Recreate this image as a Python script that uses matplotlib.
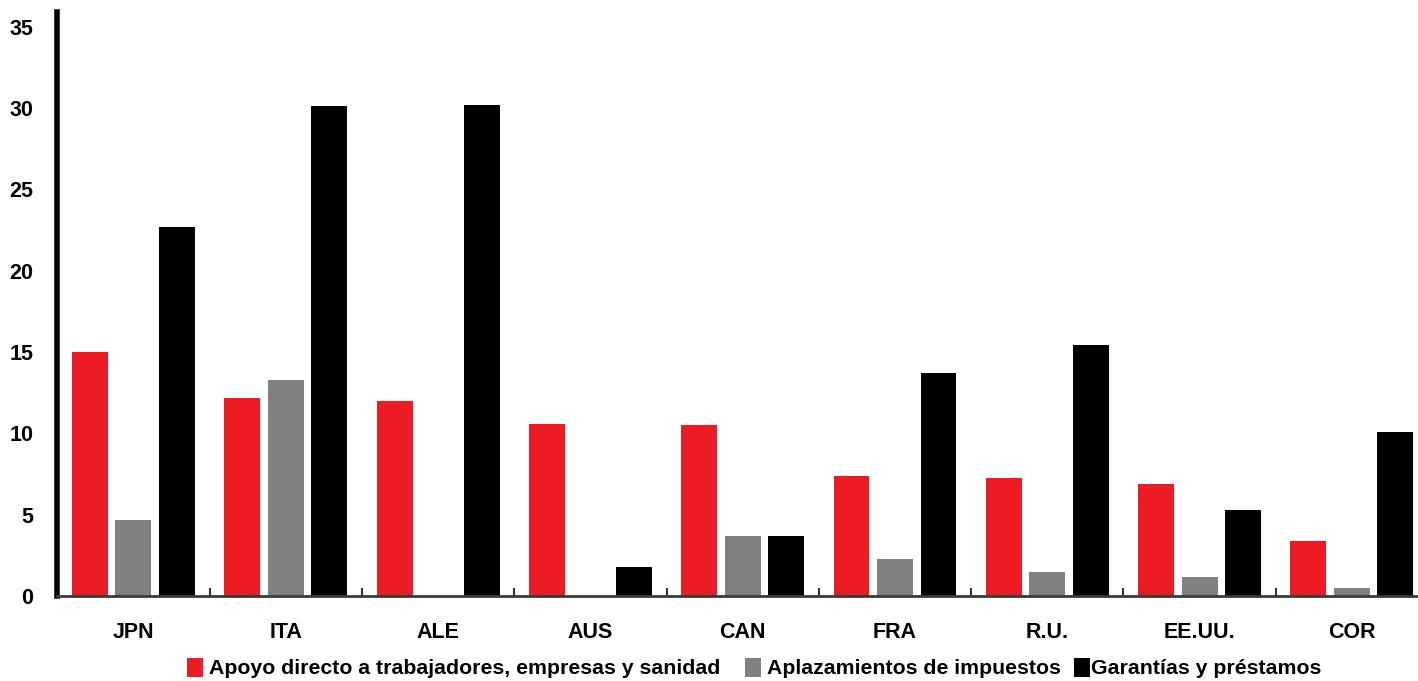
import matplotlib
matplotlib.use("Agg")
import matplotlib.pyplot as plt
import numpy as np
from matplotlib.patches import Patch

plt.rcParams['font.family'] = ['Liberation Sans', 'DejaVu Sans']
plt.rcParams['font.weight'] = 'bold'

countries = ["JPN", "ITA", "ALE", "AUS", "CAN", "FRA", "R.U.", "EE.UU.", "COR"]
apoyo_directo = [15.0, 12.2, 12.0, 10.6, 10.5, 7.4, 7.25, 6.9, 3.4]
aplazamientos = [4.7, 13.3, 0.0, 0.0, 3.7, 2.3, 1.45, 1.15, 0.5]
garantias = [22.7, 30.1, 30.2, 1.8, 3.7, 13.7, 15.4, 5.3, 10.1]
series_labels = ["Apoyo directo a trabajadores, empresas y sanidad",
                 "Aplazamientos de impuestos",
                 "Garantías y préstamos"]
colors = ["#ED1C24", "#808080", "#000000"]
yticks = [0, 5, 10, 15, 20, 25, 30, 35]

W, H = 1418, 681
fig = plt.figure(figsize=(W / 100, H / 100), dpi=100)
ax = fig.add_axes([57 / W, 85 / H, 1 - 57 / W, 584 / H])

x = np.arange(len(countries))
step = 0.2856
width = 0.236
for k, (vals, col) in enumerate(zip([apoyo_directo, aplazamientos, garantias], colors)):
    ax.bar(x + (k - 1) * step, vals, width=width, color=col, zorder=3)

ax.set_xlim(-0.502, 8.434)
ax.set_ylim(0, 35.9)
ax.set_yticks(yticks)
ax.set_yticklabels([str(t) for t in yticks], fontsize=15.5, fontweight='bold')
ax.set_xticks(x)
ax.set_xticklabels(countries, fontsize=15.5, fontweight='bold')
ax.tick_params(axis='x', which='major', length=0, pad=19)
ax.tick_params(axis='y', length=0, pad=17)
ax.set_xticks(x[:-1] + 0.5, minor=True)
ax.tick_params(axis='x', which='minor', direction='in', length=6, width=1.5, color='#333333')

for s in ['top', 'right']:
    ax.spines[s].set_visible(False)
ax.spines['left'].set_linewidth(4)
ax.spines['left'].set_color('black')
ax.spines['bottom'].set_linewidth(2)
ax.spines['bottom'].set_color('#3a3a3a')
ax.spines['bottom'].set_zorder(4)

# legend entries placed individually along the bottom
legend_x = [187, 745, 1074]
text_pad = [0.3, 0.3, 0.05]
for lx, lab, col, tp in zip(legend_x, series_labels, colors, text_pad):
    fig.legend([Patch(facecolor=col, edgecolor='none')], [lab], loc='center left',
               bbox_to_anchor=(lx / W, 1 - 668 / H), frameon=False,
               prop={'weight': 'bold', 'size': 15.3}, borderpad=0, borderaxespad=0,
               handlelength=0.75, handleheight=1.0, handletextpad=tp)

fig.savefig("out.png", dpi=100, facecolor='white')
